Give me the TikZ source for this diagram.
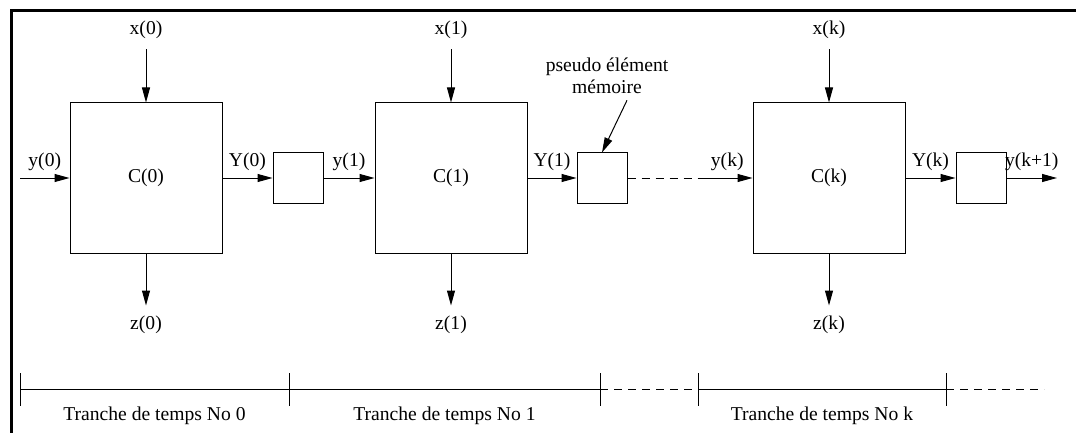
\documentclass[tikz,border=0pt]{standalone}
\usepackage{fontspec}
\setmainfont{Liberation Serif}
\usetikzlibrary{arrows.meta, positioning, calc}
\tikzset{
  cbox/.style={
    rectangle, draw=black, line width=0.5pt,
    minimum width=76pt, minimum height=75pt, inner sep=0pt
  },
  mbox/.style={
    rectangle, draw=black, line width=0.5pt,
    minimum width=25pt, minimum height=25pt, inner sep=0pt
  },
  lbl/.style={inner sep=5pt},
  arr/.style={-{Triangle[length=7.5pt, width=4pt]}, line width=0.5pt},
  tline/.style={line width=0.5pt},
  dline/.style={line width=0.5pt, dash pattern=on 4pt off 3pt},
}

\begin{document}
\begin{tikzpicture}[x=0.5pt, y=-0.5pt, font=\fontsize{9.8}{11}\selectfont]
    \useasboundingbox (0,0) rectangle (1076,433);
    \draw[line width=1.5pt] (11.5,433) |- (1076,10.5);

    \node[cbox] (c0) at (146,178) {C(0)};
    \node[cbox] (c1) at (451,178) {C(1)};
    \node[cbox] (ck) at (829,178) {C(k)};
    \node[mbox] (m0) at (298,178) {};
    \node[mbox] (m1) at (602,178) {};
    \node[mbox] (mk) at (981,178) {};

    \node[lbl, above=26.5pt of c0] (x0) {x(0)};
    \node[lbl, above=26.5pt of c1] (x1) {x(1)};
    \node[lbl, above=26.5pt of ck] (xk) {x(k)};
    \node[lbl, below=26pt of c0] (z0) {z(0)};
    \node[lbl, below=26pt of c1] (z1) {z(1)};
    \node[lbl, below=26pt of ck] (zk) {z(k)};

    \foreach \n in {0, 1, k} {
      \draw[arr] (x\n) -- (c\n);
      \draw[arr] (c\n) -- (z\n);
    }

    \coordinate (in0) at (20,178);
    \coordinate (gap) at (702,178);
    \coordinate (out) at (1057,178);

    \draw[arr] (in0) -- (c0) node[midway, above] (ly0) {y(0)};
    \draw[arr] (c0) -- (m0) node[midway, above] (lY0) {Y(0)};
    \draw[arr] (m0) -- (c1) node[midway, above] (ly1) {y(1)};
    \draw[arr] (c1) -- (m1) node[midway, above] (lY1) {Y(1)};
    \draw[dline] (m1) -- (gap);
    \draw[arr] (gap) -- (ck) node[midway, above] (lyk) {y(k)};
    \draw[arr] (ck) -- (mk) node[midway, above] (lYk) {Y(k)};
    \draw[arr] (mk) -- (out) node[midway, above] (lyk1) {y(k+1)};

    \node[align=center, inner sep=3pt] (pm) at (607,76) {pseudo élément\\mémoire};
    \draw[arr] ([xshift=10pt]pm.south) -- (m1.north);

    \foreach \t/\px in {t0/20, t1/289, t2/600, t3/698, t4/946}
      \coordinate (\t) at (\px,389);
    \coordinate (tend) at (1044,389);

    \draw[tline] (t0) -- (t2);
    \draw[dline] (t2) -- (t3);
    \draw[tline] (t3) -- (t4);
    \draw[dline] (t4) -- (tend);
    \foreach \t in {t0, t1, t2, t3, t4}
      \draw[tline] ($(\t)+(0,-16)$) -- ($(\t)+(0,17)$);

    \node (s0) at ($(t0)!0.5!(t1)+(0,27)$) {Tranche de temps No 0};
    \node (s1) at ($(t1)!0.5!(t2)+(0,27)$) {Tranche de temps No 1};
    \node (sk) at ($(t3)!0.5!(t4)+(0,27)$) {Tranche de temps No k};
\end{tikzpicture}
\end{document}
